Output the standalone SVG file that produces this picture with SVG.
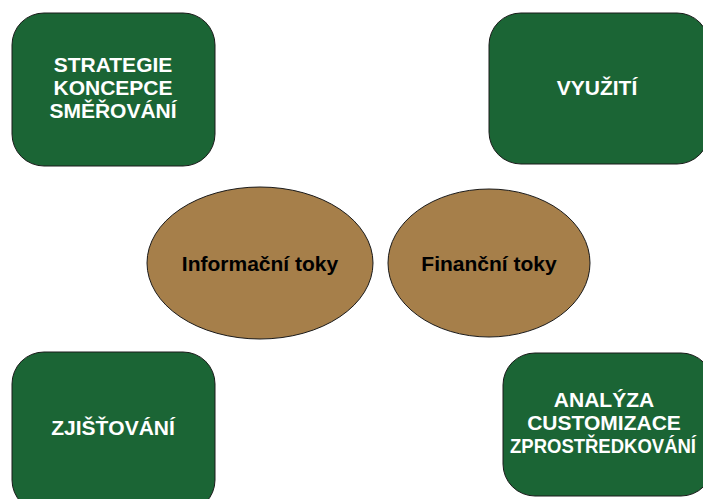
<svg xmlns="http://www.w3.org/2000/svg" width="703" height="499" viewBox="0 0 703 499">
<style>
.box{fill:#1b6535;stroke:#1a1a1a;stroke-width:1}
.ell{fill:#a67f4a;stroke:#1a1a1a;stroke-width:1}
.wt{font-family:"Liberation Sans",Arial,sans-serif;font-weight:bold;font-size:21px;fill:#ffffff;text-anchor:middle}
.bt{font-family:"Liberation Sans",Arial,sans-serif;font-weight:bold;font-size:21px;fill:#000000;text-anchor:middle}
</style>
<rect width="703" height="499" fill="#ffffff"/>
<g id="strategie">
<rect class="box" x="12" y="13" width="203" height="153" rx="32" ry="32"/>
<text class="wt" x="113" y="72">STRATEGIE</text>
<text class="wt" x="113" y="95">KONCEPCE</text>
<text class="wt" x="113" y="118">SMĚŘOVÁNÍ</text>
</g>
<g id="vyuziti">
<rect class="box" x="489" y="13" width="220" height="151" rx="32" ry="32"/>
<text class="wt" x="597" y="95">VYUŽITÍ</text>
</g>
<g id="zjistovani">
<rect class="box" x="12" y="352" width="203" height="160" rx="32" ry="32"/>
<text class="wt" x="113" y="435">ZJIŠŤOVÁNÍ</text>
</g>
<g id="analyza">
<rect class="box" x="503" y="353" width="210" height="143" rx="32" ry="32"/>
<text class="wt" x="604" y="407">ANALÝZA</text>
<text class="wt" x="604" y="430">CUSTOMIZACE</text>
<text class="wt" x="603" y="453" textLength="186" lengthAdjust="spacingAndGlyphs">ZPROSTŘEDKOVÁNÍ</text>
</g>
<g id="informacni">
<ellipse class="ell" cx="260" cy="263" rx="113" ry="76"/>
<text class="bt" x="260" y="271">Informační toky</text>
</g>
<g id="financni">
<ellipse class="ell" cx="489" cy="263" rx="101" ry="74"/>
<text class="bt" x="489" y="271">Finanční toky</text>
</g>
<g id="connectors"></g>
</svg>
